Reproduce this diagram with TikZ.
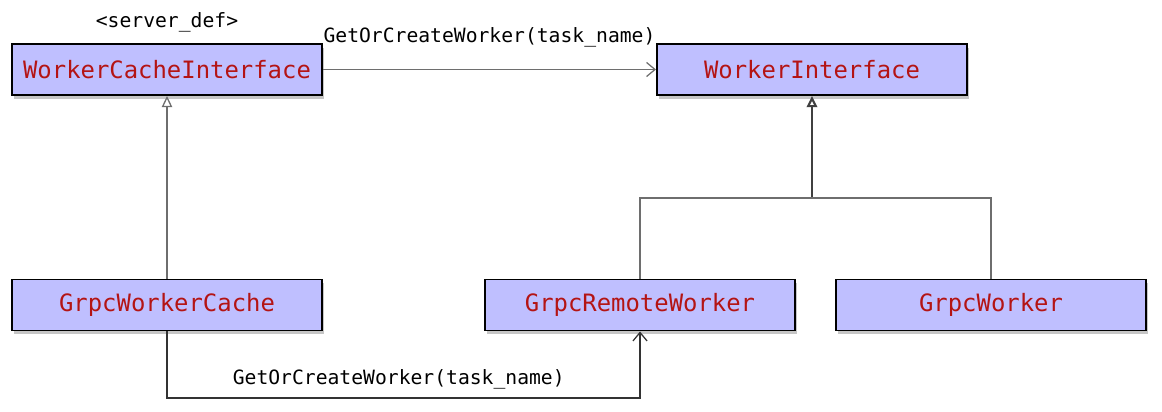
\documentclass[tikz,border=0pt]{standalone}
\usepackage{fontspec}
\setmonofont{DejaVu Sans Mono}
\usetikzlibrary{arrows.meta,shadows}
\definecolor{classfill}{RGB}{191,191,255}
\definecolor{classtext}{RGB}{180,20,20}
\definecolor{linkgray}{RGB}{110,110,110}

\begin{document}
\begin{tikzpicture}[x=0.025cm,y=-0.025cm]
\tikzset{
class node/.style={rectangle,draw=black,line width=1.4pt,fill=classfill,minimum width=7.75cm,minimum height=1.275cm,inner sep=0pt,font=\ttfamily\fontsize{17}{17}\selectfont,text=classtext,drop shadow={opacity=0.45,shadow xshift=1.5pt,shadow yshift=-2.5pt}},
note/.style={font=\ttfamily\fontsize{14}{14}\selectfont,inner sep=0pt},
link/.style={draw=linkgray,line width=0.9pt},
calls/.style={link,-{Straight Barb[length=6pt,width=10pt]}},
extends/.style={link,-{Triangle[open,length=8pt,width=7.5pt]}}
}
\useasboundingbox (0,0) rectangle (1162,412);

\node(cacheif)[class node] at (167,69.5){WorkerCacheInterface};
\node(workerif)[class node] at (812,69.5){WorkerInterface};
\node(gcache)[class node] at (167,305){GrpcWorkerCache};
\node(gremote)[class node] at (640,305){GrpcRemoteWorker};
\node(gworker)[class node] at (991,305){GrpcWorker};

\node(serverdef)[note] at (167,22){<server\_def>};

\coordinate(fork) at (812,198);
\coordinate(turn) at (167,398);

\draw[calls] (cacheif) -- node[note,above=0.55cm]{GetOrCreateWorker(task\_name)} (workerif);
\draw[extends] (gcache) -- (cacheif);
\draw[extends,draw=black!75,line width=1.5pt] (fork) -- (workerif);
\draw[link] (gremote.north) |- (fork) -| (gworker.north);
\draw[calls,draw=black!80] (gcache.south) -- (turn) -| node[note,pos=0.245,above=0.2cm]{GetOrCreateWorker(task\_name)} (gremote.south);
\end{tikzpicture}
\end{document}
